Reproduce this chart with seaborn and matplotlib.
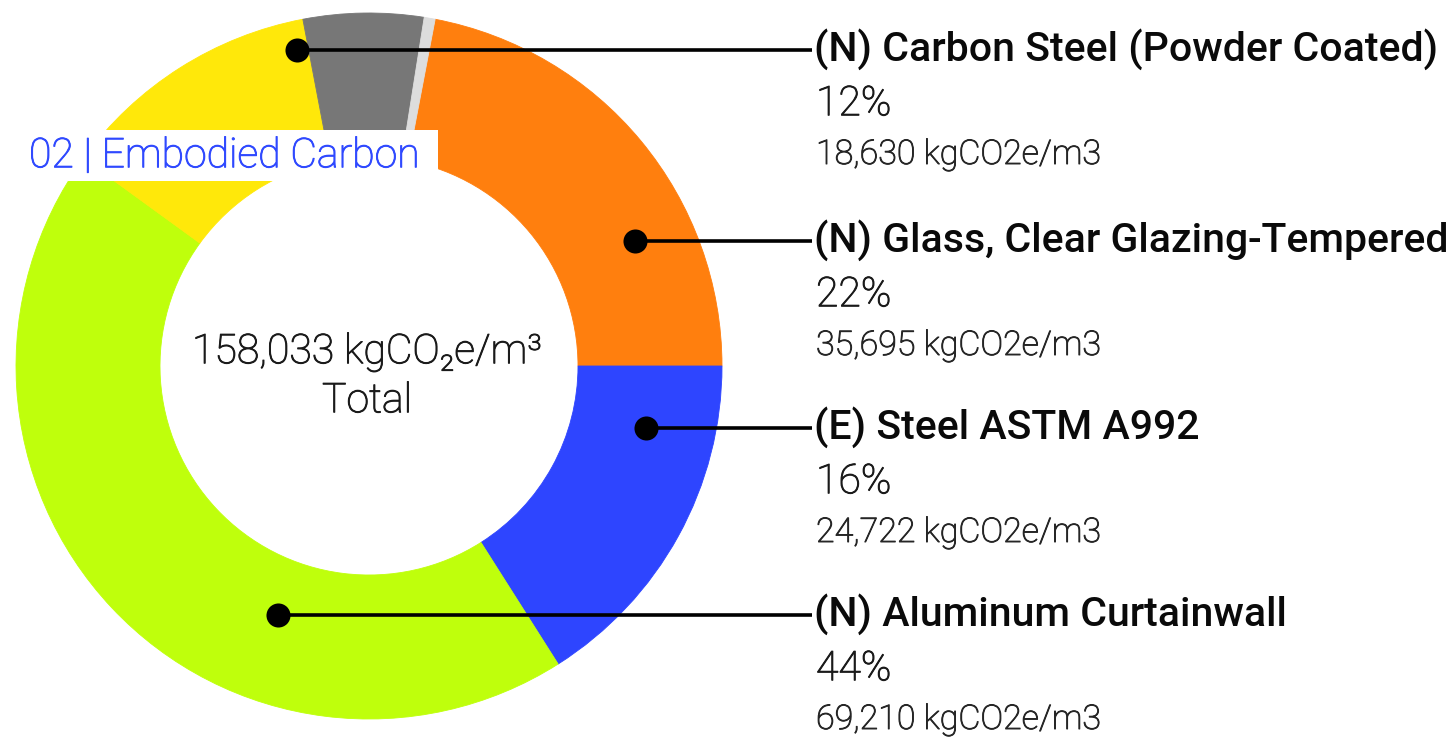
import matplotlib
matplotlib.use("Agg")
import matplotlib.pyplot as plt
import matplotlib.patheffects as pe
import seaborn as sns
import numpy as np
from matplotlib.patches import Rectangle

# ---- data ----
materials = ["(N) Glass, Clear Glazing-Tempered", "(E) Steel ASTM A992",
             "(N) Aluminum Curtainwall", "(N) Carbon Steel (Powder Coated)",
             "Other A", "Other B"]
values = [35695, 24722, 69210, 18630, None, None]          # kgCO2e/m3 (labelled)
share_pct = [22, 16, 44, 12, 5.5, 0.5]                     # ring shares, %
colors = ["#FF7F0E", "#2E45FF", "#BFFF0C", "#FFE80A", "#777777", "#DDDDDD"]
total_label = "158,033 kgCO\u2082e/m\u00b3"
title = "02 | Embodied Carbon"

sns.set_theme(style="white")
plt.rcParams["font.family"] = ["Roboto", "DejaVu Sans"]

W, H = 1456, 738
fig = plt.figure(figsize=(W / 100, H / 100), dpi=100)
ax = fig.add_axes([0, 0, 1, 1])

cx, cy = 369, H - 366
R, r_in = 353, 209
start = 360 * share_pct[0] / sum(share_pct)

wedges, _ = ax.pie(share_pct, colors=colors, startangle=start, counterclock=False,
                   radius=R, center=(cx, cy), frame=True,
                   wedgeprops=dict(width=R - r_in, linewidth=0))
for w in wedges:
    w.set_edgecolor(w.get_facecolor())
    w.set_linewidth(0.6)
ax.set_xlim(0, W)
ax.set_ylim(0, H)
ax.set_aspect("equal")
ax.axis("off")


def thick(c):
    return [pe.withStroke(linewidth=0.7, foreground=c)]


DARK = "#1a1a1a"
# center total
ax.text(cx - 2, H - 352, total_label, ha="center", va="center", fontsize=29.5,
        fontweight="light", color=DARK, path_effects=thick(DARK))
ax.text(cx - 2, H - 401, "Total", ha="center", va="center", fontsize=29.5,
        fontweight="light", color=DARK, path_effects=thick(DARK))

# labels (layout)
label_y = {3: 50, 0: 241, 1: 428, 2: 615}
dot_r = {3: 324, 0: 294, 1: 284, 2: 265}
text_x = 815
for i, yy in label_y.items():
    y = H - yy
    w = wedges[i]
    mid = np.deg2rad((w.theta1 + w.theta2) / 2)
    side = 1 if np.cos(mid) >= 0 else -1
    dy = y - cy
    dx = side * np.sqrt(max(dot_r[i] ** 2 - dy ** 2, 0))
    ax.plot([cx + dx, text_x - 3], [y, y], color="black", lw=2.6,
            solid_capstyle="butt", zorder=5)
    ax.scatter([cx + dx], [y], s=300, color="black", zorder=6, linewidths=0)
    ax.text(text_x - 1, y + 1, materials[i], ha="left", va="center", fontsize=29.5,
            fontweight="medium", color="#0a0a0a")
    ax.text(text_x + 1, y - 54, f"{share_pct[i]:g}%", ha="left", va="center",
            fontsize=29.5, fontweight="light", color=DARK, path_effects=thick(DARK))
    ax.text(text_x + 1, y - 105, f"{values[i]:,} kgCO2e/m3", ha="left",
            va="center", fontsize=24.5, fontweight="light", color="#262626",
            path_effects=thick("#262626"))

# title box
ax.add_patch(Rectangle((20, H - 181), 418, 51, facecolor="white",
                       edgecolor="none", zorder=7))
ax.text(29, H - 156, title, ha="left", va="center", fontsize=29.5,
        fontweight="light", color="#2f49ff", zorder=8,
        path_effects=thick("#2f49ff"))

fig.savefig("out.png", dpi=100, facecolor="white")
